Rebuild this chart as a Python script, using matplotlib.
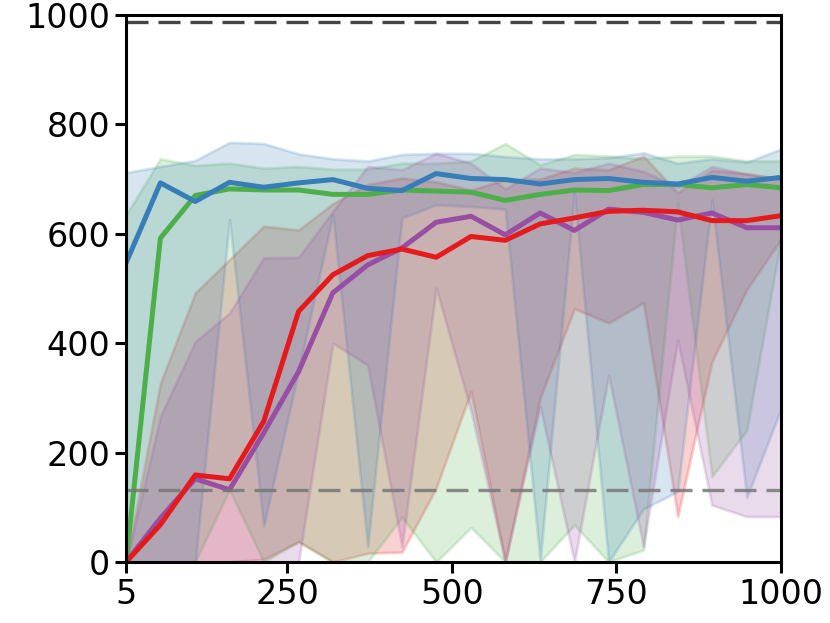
import matplotlib
matplotlib.use("Agg")
import matplotlib.pyplot as plt

# evaluation steps
steps = [5, 57, 110, 162, 214, 267, 319, 372, 424, 476,
         529, 581, 634, 686, 738, 791, 843, 895, 948, 1000]

blue_mean = [547, 693, 659, 694, 685, 693, 699, 683, 679, 710, 701, 699, 691, 699, 701, 694, 691, 703, 696, 703]
blue_hi = [712, 723, 734, 767, 765, 746, 737, 733, 745, 747, 747, 741, 737, 737, 739, 748, 729, 737, 731, 755]
blue_lo = [0, 0, 0, 626, 66, 350, 635, 28, 629, 653, 650, 645, 3, 675, 0, 97, 129, 662, 118, 280]

green_mean = [0, 592, 670, 682, 680, 680, 672, 672, 680, 678, 676, 661, 672, 680, 679, 690, 690, 684, 690, 684]
green_hi = [635, 737, 725, 729, 720, 723, 718, 718, 729, 729, 733, 765, 726, 745, 742, 737, 742, 742, 733, 733]
green_lo = [0, 0, 0, 132, 0, 37, 0, 0, 82, 0, 63, 0, 0, 68, 0, 22, 657, 156, 241, 590]

purple_mean = [0, 80, 152, 132, 236, 348, 492, 543, 574, 621, 632, 598, 638, 606, 645, 639, 625, 638, 611, 611]
purple_hi = [0, 266, 403, 455, 556, 557, 641, 723, 717, 747, 729, 682, 720, 712, 729, 714, 686, 723, 709, 700]
purple_lo = [0, 0, 0, 0, 0, 0, 400, 360, 28, 501, 276, 0, 284, 0, 342, 28, 406, 104, 83, 83]

red_mean = [0, 68, 159, 152, 257, 458, 525, 560, 572, 557, 595, 588, 618, 629, 641, 643, 640, 624, 624, 633]
red_hi = [0, 327, 492, 553, 614, 607, 655, 690, 702, 695, 680, 699, 700, 720, 717, 742, 675, 716, 710, 700]
red_lo = [0, 0, 0, 0, 5, 37, 0, 16, 18, 135, 312, 0, 300, 463, 437, 474, 83, 366, 498, 590]

upper_ref = 987
lower_ref = 132

GREEN, BLUE, PURPLE, RED = "#4daf4a", "#377eb8", "#984ea3", "#e41a1c"

fig = plt.figure(figsize=(8.3, 6.23), dpi=100)
ax = fig.add_axes([0.152, 0.098, 0.789, 0.878])

# bands (min..max over runs)
for col, lo, hi in [(RED, red_lo, red_hi), (GREEN, green_lo, green_hi),
                    (BLUE, blue_lo, blue_hi), (PURPLE, purple_lo, purple_hi)]:
    ax.fill_between(steps, lo, hi, color=col, alpha=0.2, lw=2)

# mean curves
for col, m in [(GREEN, green_mean), (BLUE, blue_mean),
               (PURPLE, purple_mean), (RED, red_mean)]:
    ax.plot(steps, m, color=col, lw=3.6)

ax.axhline(upper_ref, color="#444444", lw=2.4, dashes=(6.6, 3))
ax.axhline(lower_ref, color="#777777", lw=2.4, dashes=(6.6, 3), alpha=0.85)

ax.set_xlim(5, 1000)
ax.set_ylim(0, 1000)
ax.set_xticks([5, 250, 500, 750, 1000])
ax.set_yticks([0, 200, 400, 600, 800, 1000])
ax.tick_params(labelsize=24, width=2.2, length=8)
for sp in ax.spines.values():
    sp.set_linewidth(2.2)

fig.savefig("out.png", dpi=100)
